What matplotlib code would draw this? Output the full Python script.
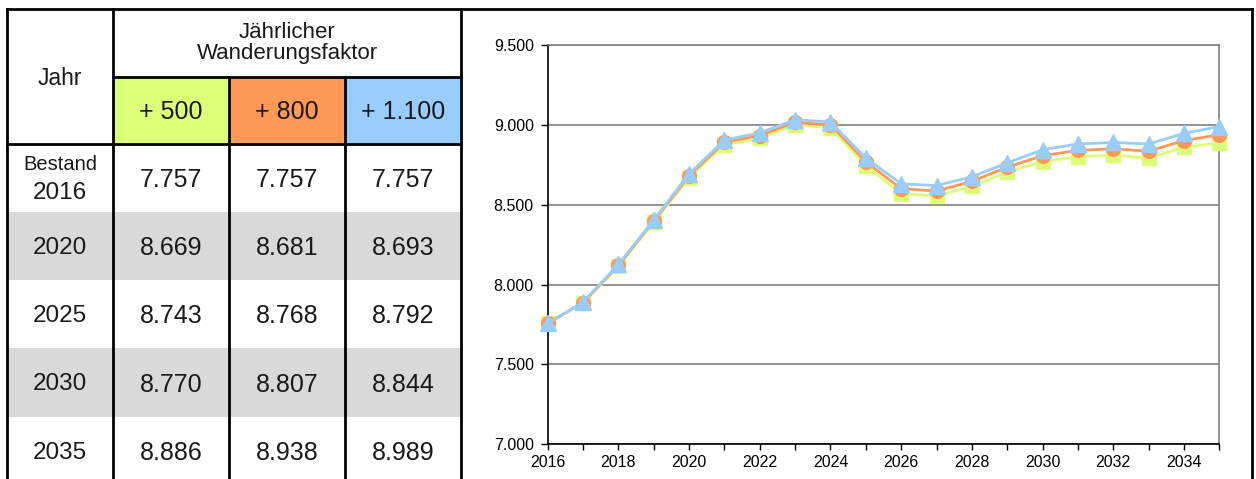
import matplotlib.pyplot as plt
from matplotlib.patches import Rectangle

# Einwohnerprognose bei unterschiedlichem Wanderungsfaktor
jahre = [2016, 2017, 2018, 2019, 2020, 2021, 2022, 2023, 2024, 2025,
         2026, 2027, 2028, 2029, 2030, 2031, 2032, 2033, 2034, 2035]
plus_500 = [7757, 7884, 8114, 8390, 8669, 8876, 8915, 9000, 8983, 8743,
            8570, 8555, 8615, 8705, 8770, 8800, 8812, 8792, 8860, 8886]
plus_800 = [7757, 7887, 8120, 8398, 8681, 8891, 8933, 9016, 9000, 8768,
            8600, 8586, 8646, 8735, 8807, 8840, 8850, 8835, 8902, 8938]
plus_1100 = [7757, 7890, 8126, 8405, 8693, 8905, 8950, 9032, 9018, 8792,
             8631, 8620, 8675, 8762, 8844, 8880, 8890, 8880, 8947, 8989]

szenarien = ["+ 500", "+ 800", "+ 1.100"]
farben = ["#ddff77", "#ff9955", "#99ccff"]
tabellen_jahre = [2016, 2020, 2025, 2030, 2035]

schrift = "Liberation Sans"
text_farbe = "#1a1a1a"


def de_zahl(v):
    return f"{v:,}".replace(",", ".")


fig = plt.figure(figsize=(12.56, 4.79), dpi=100)

# Tabelle links, in Pixelkoordinaten gezeichnet
bg = fig.add_axes([0, 0, 1, 1])
bg.set_xlim(0, 1256)
bg.set_ylim(479, 0)
bg.axis("off")

spalten_x = [7, 113, 229, 345, 461]
zeilen_y = [9, 77, 144, 212, 280, 348, 417, 485]


def zelle(x, y, s, size, **kw):
    bg.text(x, y, s, ha="center", va="center", fontsize=size, family=schrift,
            color=text_farbe, **kw)


# graue Zeilen (2020, 2030)
for z in (3, 5):
    bg.add_patch(Rectangle((spalten_x[0], zeilen_y[z]), spalten_x[-1] - spalten_x[0],
                           zeilen_y[z + 1] - zeilen_y[z], color="#d9d9d9", lw=0))

# farbige Kopfzellen
for i, (name, farbe) in enumerate(zip(szenarien, farben)):
    x0, x1 = spalten_x[i + 1], spalten_x[i + 2]
    bg.add_patch(Rectangle((x0, zeilen_y[1]), x1 - x0, zeilen_y[2] - zeilen_y[1], color=farbe, lw=0))
    zelle((x0 + x1) / 2, 112, name, 18)

zelle(60, 78, "Jahr", 16.5)
zelle((spalten_x[1] + spalten_x[-1]) / 2, 43, "Jährlicher\nWanderungsfaktor", 16, linespacing=1.05)

reihen = [plus_500, plus_800, plus_1100]
for r, jahr in enumerate(tabellen_jahre):
    yc = (zeilen_y[r + 2] + zeilen_y[r + 3]) / 2 + 2
    if r == 0:
        zelle(60, 165, "Bestand", 14.5)
        zelle(60, 193, str(jahr), 17.5)
    else:
        zelle(60, yc, str(jahr), 17.5)
    idx = jahre.index(jahr)
    for c, werte in enumerate(reihen):
        xc = (spalten_x[c + 1] + spalten_x[c + 2]) / 2
        zelle(xc, yc, de_zahl(werte[idx]), 18)

# Linien der Tabelle und äußerer Rahmen
lw_rahmen = 2.0
bg.plot([7, 1252], [9, 9], color="black", lw=lw_rahmen)
bg.plot([113, 461], [77, 77], color="black", lw=lw_rahmen)
bg.plot([7, 461], [144, 144], color="black", lw=lw_rahmen)
for x in (7, 113, 461, 1252):
    bg.plot([x, x], [9, 485], color="black", lw=lw_rahmen)
for x in (229, 345):
    bg.plot([x, x], [77, 485], color="black", lw=lw_rahmen)

# Diagramm rechts
ax = fig.add_axes([547.7 / 1256, 34.7 / 479, 671.6 / 1256, 399.3 / 479])
ax.set_xlim(2016, 2035)
ax.set_ylim(7000, 9500)

ax.plot(jahre, plus_500, color=farben[0], lw=2, marker="s", ms=10.5, mec=farben[0], clip_on=False, zorder=3)
ax.plot(jahre, plus_800, color=farben[1], lw=2, marker="o", ms=10, mec=farben[1], clip_on=False, zorder=4)
ax.plot(jahre, plus_1100, color=farben[2], lw=2, marker="^", ms=11.5, mec=farben[2], clip_on=False, zorder=5)

ax.set_yticks([7000, 7500, 8000, 8500, 9000, 9500])
ax.set_yticklabels([de_zahl(v) for v in [7000, 7500, 8000, 8500, 9000, 9500]])
ax.set_xticks(jahre)
ax.set_xticklabels([str(j) if (j % 2 == 0 and j < 2035) else "" for j in jahre])
ax.yaxis.grid(True, color="#808080", lw=1.2)
ax.set_axisbelow(True)

for lab in ax.get_xticklabels() + ax.get_yticklabels():
    lab.set_family(schrift)
    lab.set_fontsize(11.5)
    lab.set_color("black")
ax.tick_params(axis="y", length=5, width=1, pad=5)
ax.tick_params(axis="x", length=4, width=1, pad=4)

ax.spines["left"].set_color("black")
ax.spines["bottom"].set_color("black")
ax.spines["left"].set_linewidth(1.2)
ax.spines["bottom"].set_linewidth(1.2)
ax.spines["right"].set_color("#808080")
ax.spines["top"].set_color("#808080")
ax.spines["right"].set_linewidth(1.2)
ax.spines["top"].set_linewidth(1.2)

fig.savefig("out.png", dpi=100)
